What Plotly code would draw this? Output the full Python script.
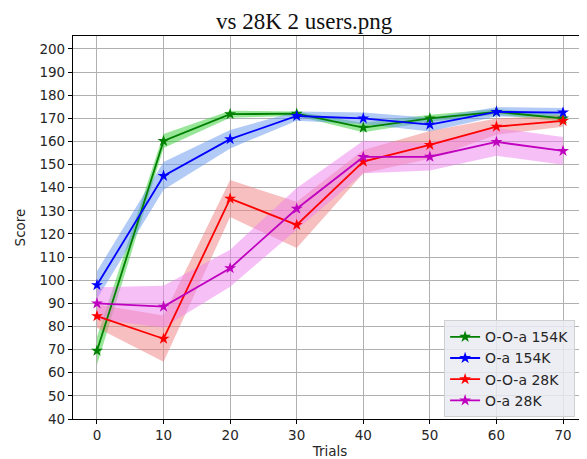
import plotly.graph_objects as go

trials = [0, 10, 20, 30, 40, 50, 60, 70]

names = ["O-O-a 154K", "O-a 154K", "O-O-a 28K", "O-a 28K"]
ooa154_mean = [69.5, 160.2, 171.8, 172.0, 166.0, 170.0, 172.8, 170.0]
ooa154_std = [6.0, 3.0, 1.5, 1.0, 2.0, 1.5, 1.2, 1.5]
oa154_mean = [97.9, 145.1, 161.0, 171.0, 170.0, 167.3, 172.8, 172.5]
oa154_std = [6.0, 6.0, 4.0, 2.0, 2.5, 3.0, 2.0, 2.0]
ooa28_mean = [84.5, 74.7, 135.3, 123.9, 151.3, 158.5, 166.4, 168.9]
ooa28_std = [5.0, 10.0, 8.0, 10.0, 5.0, 6.0, 3.5, 2.5]
oa28_mean = [90.0, 88.6, 105.2, 130.9, 153.3, 153.4, 159.8, 155.9]
oa28_std = [7.0, 9.0, 8.0, 9.0, 7.0, 6.0, 6.0, 6.0]

means = [ooa154_mean, oa154_mean, ooa28_mean, oa28_mean]
stds = [ooa154_std, oa154_std, ooa28_std, oa28_std]
line_colors = ["#008000", "#0000ff", "#ff0000", "#bf00bf"]
fill_colors = ["rgba(50,205,50,0.5)", "rgba(100,149,237,0.5)",
               "rgba(240,128,128,0.5)", "rgba(238,130,238,0.5)"]

fig = go.Figure()

for m, s, fc in zip(means, stds, fill_colors):
    upper = [a + b for a, b in zip(m, s)]
    lower = [a - b for a, b in zip(m, s)]
    fig.add_trace(go.Scatter(
        x=trials + trials[::-1], y=upper + lower[::-1],
        fill="toself", fillcolor=fc, line=dict(width=0),
        mode="lines", hoverinfo="skip", showlegend=False))

for n, m, lc in zip(names, means, line_colors):
    fig.add_trace(go.Scatter(
        x=trials, y=m, name=n, mode="lines+markers",
        line=dict(color=lc, width=1.8),
        marker=dict(symbol="star", size=9, color=lc)))

# page body has an 8px default margin, so the figure is sized to fit the window
fig.update_layout(
    width=579, height=451,
    margin=dict(l=65, r=0, t=28, b=40, autoexpand=False),
    plot_bgcolor="white", paper_bgcolor="white",
    font=dict(family="DejaVu Sans", size=13.5, color="#262626"),
    showlegend=True,
    legend=dict(x=0.722, y=0.258, xanchor="left", yanchor="top",
                bgcolor="rgba(234,234,242,0.85)", bordercolor="#d0d0d0",
                borderwidth=1, font=dict(size=14, color="#262626"),
                tracegroupgap=0, itemwidth=30),
    annotations=[dict(text="vs 28K 2 users.png", xref="paper", yref="paper",
                      x=0.451, y=1.037, xanchor="center", yanchor="middle",
                      showarrow=False,
                      font=dict(family="Liberation Serif", size=23, color="#111111"))],
)

fig.update_xaxes(
    range=[-3.6, 73.6], tickvals=[0, 10, 20, 30, 40, 50, 60, 70],
    showgrid=True, gridcolor="#b0b0b0", gridwidth=1,
    showline=True, linecolor="black", linewidth=1.2, mirror=True,
    ticks="outside", ticklen=4, tickcolor="black",
    zeroline=False, automargin=False,
    title=dict(text="Trials", standoff=4, font=dict(size=13.5)))

fig.update_yaxes(
    range=[40, 205.6], tickvals=list(range(40, 201, 10)),
    showgrid=True, gridcolor="#b0b0b0", gridwidth=1,
    showline=True, linecolor="black", linewidth=1.2, mirror=False,
    ticks="outside", ticklen=4, tickcolor="black",
    zeroline=False, automargin=False,
    title=dict(text="Score", standoff=10, font=dict(size=13.5)))

fig.write_html("out.html")
